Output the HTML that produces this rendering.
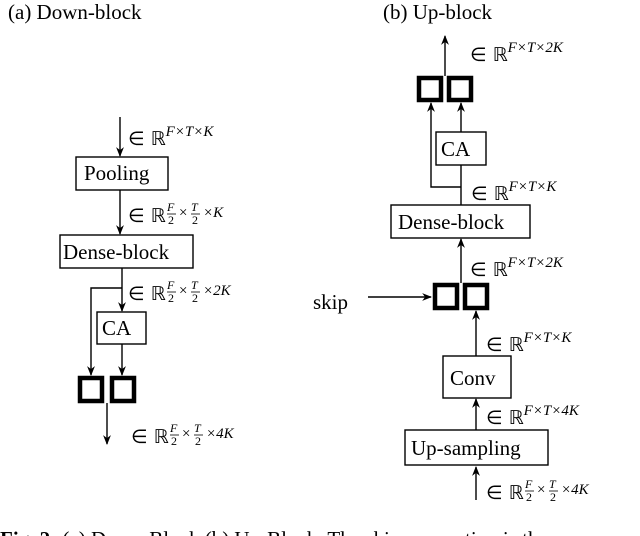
<!DOCTYPE html>
<html><head><meta charset="utf-8"><style>
html,body{margin:0;padding:0;background:#fff;}
svg{display:block;}
text{font-family:"Liberation Serif",serif;fill:#000;}
.m{font-family:"DejaVu Sans","Liberation Serif",serif;}
.i{font-style:italic;}
</style></head><body>
<svg width="640" height="536" viewBox="0 0 640 536" xmlns="http://www.w3.org/2000/svg">
<defs>
<marker id="a" viewBox="0 0 10 10" refX="9" refY="5" markerWidth="7" markerHeight="7" orient="auto"><path d="M0,1 L10,5 L0,9 L3,5 z" fill="#000"/></marker>
</defs>
<g stroke="#000" stroke-width="1.4" fill="none">
<!-- left -->
<line x1="120" y1="117" x2="120" y2="156" marker-end="url(#a)"/>
<rect x="76" y="157" width="92" height="33"/>
<line x1="120" y1="190" x2="120" y2="234" marker-end="url(#a)"/>
<rect x="60" y="235" width="133" height="33"/>
<line x1="122" y1="268" x2="122" y2="311" marker-end="url(#a)"/>
<polyline points="122,288 91,288 91,375" marker-end="url(#a)"/>
<rect x="97" y="312" width="49" height="32"/>
<line x1="122" y1="344" x2="122" y2="375" marker-end="url(#a)"/>
<line x1="107" y1="403" x2="107" y2="444" marker-end="url(#a)"/>
<!-- right -->
<line x1="445" y1="76" x2="445" y2="36" marker-end="url(#a)"/>
<polyline points="461,187 431,187 431,103" marker-end="url(#a)"/>
<line x1="461" y1="132" x2="461" y2="103" marker-end="url(#a)"/>
<rect x="436" y="132" width="50" height="33"/>
<line x1="461" y1="205" x2="461" y2="165"/>
<rect x="391" y="205" width="139" height="33"/>
<line x1="461" y1="283" x2="461" y2="239" marker-end="url(#a)"/>
<line x1="368" y1="297" x2="431" y2="297" marker-end="url(#a)"/>
<line x1="476" y1="356" x2="476" y2="311" marker-end="url(#a)"/>
<rect x="443" y="356" width="68" height="42"/>
<line x1="476" y1="430" x2="476" y2="399" marker-end="url(#a)"/>
<rect x="405" y="430" width="143" height="35"/>
<line x1="476" y1="500" x2="476" y2="467" marker-end="url(#a)"/>
</g>
<g stroke="#000" stroke-width="4.5" fill="none">
<rect x="80" y="378" width="22" height="23"/>
<rect x="112" y="378" width="22" height="23"/>
<rect x="419" y="78" width="22" height="22"/>
<rect x="449" y="78" width="22" height="22"/>
<rect x="435" y="285" width="22" height="23"/>
<rect x="465" y="285" width="22" height="23"/>
</g>
<g font-size="21">
<text x="8" y="19">(a) Down-block</text>
<text x="383" y="19">(b) Up-block</text>
<text x="84" y="180">Pooling</text>
<text x="63" y="259">Dense-block</text>
<text x="102" y="335">CA</text>
<text x="441" y="156">CA</text>
<text x="398" y="229">Dense-block</text>
<text x="313" y="309">skip</text>
<text x="450" y="385">Conv</text>
<text x="411" y="455">Up-sampling</text>
<text x="0" y="546" font-weight="bold">Fig. 2: <tspan font-weight="normal">(a) Down-Block (b) Up-Block. The skip connection is the</tspan></text>
</g>
<!-- math labels -->
<g font-size="19">
<text x="128" y="145" class="m">∈ ℝ<tspan class="i" font-family="Liberation Serif" font-size="15" dy="-9">F×T×K</tspan></text>
<text x="128" y="222" class="m">∈ ℝ</text>
<text x="128" y="300" class="m">∈ ℝ</text>
<text x="131" y="443" class="m">∈ ℝ</text>
<text x="470" y="61" class="m">∈ ℝ<tspan class="i" font-family="Liberation Serif" font-size="15" dy="-9">F×T×2K</tspan></text>
<text x="471" y="200" class="m">∈ ℝ<tspan class="i" font-family="Liberation Serif" font-size="15" dy="-9">F×T×K</tspan></text>
<text x="470" y="276" class="m">∈ ℝ<tspan class="i" font-family="Liberation Serif" font-size="15" dy="-9">F×T×2K</tspan></text>
<text x="486" y="351" class="m">∈ ℝ<tspan class="i" font-family="Liberation Serif" font-size="15" dy="-9">F×T×K</tspan></text>
<text x="486" y="424" class="m">∈ ℝ<tspan class="i" font-family="Liberation Serif" font-size="15" dy="-9">F×T×4K</tspan></text>
<text x="486" y="499" class="m">∈ ℝ</text>
</g>
<!-- fraction superscripts -->
<g font-size="12" font-family="Liberation Serif">
<g transform="translate(167,222)">
<text x="0" y="-11" class="i">F</text><line x1="0" y1="-8" x2="9" y2="-8" stroke="#000" stroke-width="0.8"/><text x="1" y="2">2</text>
<text x="12" y="-5" font-size="15">×</text>
<text x="24" y="-11" class="i">T</text><line x1="24" y1="-8" x2="33" y2="-8" stroke="#000" stroke-width="0.8"/><text x="25" y="2">2</text>
<text x="36" y="-5" font-size="15" class="i">×K</text>
</g>
<g transform="translate(167,300)">
<text x="0" y="-11" class="i">F</text><line x1="0" y1="-8" x2="9" y2="-8" stroke="#000" stroke-width="0.8"/><text x="1" y="2">2</text>
<text x="12" y="-5" font-size="15">×</text>
<text x="24" y="-11" class="i">T</text><line x1="24" y1="-8" x2="33" y2="-8" stroke="#000" stroke-width="0.8"/><text x="25" y="2">2</text>
<text x="36" y="-5" font-size="15" class="i">×2K</text>
</g>
<g transform="translate(170,443)">
<text x="0" y="-11" class="i">F</text><line x1="0" y1="-8" x2="9" y2="-8" stroke="#000" stroke-width="0.8"/><text x="1" y="2">2</text>
<text x="12" y="-5" font-size="15">×</text>
<text x="24" y="-11" class="i">T</text><line x1="24" y1="-8" x2="33" y2="-8" stroke="#000" stroke-width="0.8"/><text x="25" y="2">2</text>
<text x="36" y="-5" font-size="15" class="i">×4K</text>
</g>
<g transform="translate(525,499)">
<text x="0" y="-11" class="i">F</text><line x1="0" y1="-8" x2="9" y2="-8" stroke="#000" stroke-width="0.8"/><text x="1" y="2">2</text>
<text x="12" y="-5" font-size="15">×</text>
<text x="24" y="-11" class="i">T</text><line x1="24" y1="-8" x2="33" y2="-8" stroke="#000" stroke-width="0.8"/><text x="25" y="2">2</text>
<text x="36" y="-5" font-size="15" class="i">×4K</text>
</g>
</g>
</svg>
</body></html>
